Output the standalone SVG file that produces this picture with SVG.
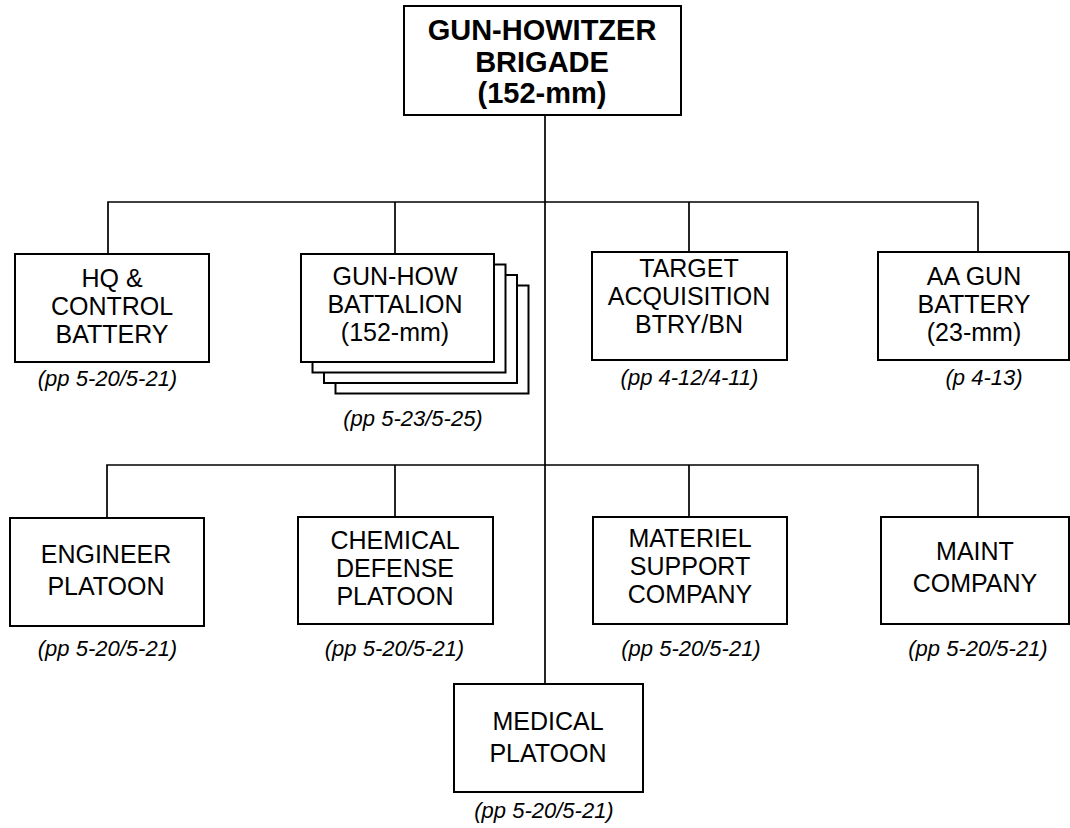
<svg xmlns="http://www.w3.org/2000/svg" width="1070" height="828" viewBox="0 0 1070 828">
<style>
.box{fill:#fff;stroke:#000;stroke-width:2}
.ln{fill:none;stroke:#000;stroke-width:1.7}
.t{font-family:"Liberation Sans",Arial,sans-serif;font-size:25px;fill:#000;text-anchor:middle}
.tb{font-family:"Liberation Sans",Arial,sans-serif;font-size:29px;font-weight:bold;fill:#000;text-anchor:middle}
.lb{font-family:"Liberation Sans",Arial,sans-serif;font-size:22px;font-style:italic;fill:#000;text-anchor:middle}
</style>
<rect width="1070" height="828" fill="#fff"/>
<g id="connectors">
<path class="ln" d="M545,115V684"/>
<path class="ln" d="M108,254V202H978V252M395,202V254M689,202V252"/>
<path class="ln" d="M107,518V465H978V517M395,465V517M689,465V517"/>
</g>
<g id="brigade">
<rect class="box" x="404" y="6" width="277" height="109"/>
<text class="tb" x="542" y="40">GUN-HOWITZER</text>
<text class="tb" x="542" y="72">BRIGADE</text>
<text class="tb" x="542" y="103">(152-mm)</text>
</g>
<g id="hq">
<rect class="box" x="15" y="254" width="194" height="108"/>
<text class="t" x="112" y="287">HQ &amp;</text>
<text class="t" x="112" y="315">CONTROL</text>
<text class="t" x="112" y="343">BATTERY</text>
<text class="lb" x="107.5" y="386">(pp 5-20/5-21)</text>
</g>
<g id="gunhow">
<rect class="box" x="335.5" y="285.5" width="193" height="108"/>
<rect class="box" x="324" y="275" width="193" height="108"/>
<rect class="box" x="312.5" y="264.5" width="193" height="108"/>
<rect class="box" x="301" y="254" width="193" height="108"/>
<text class="t" x="395" y="285">GUN-HOW</text>
<text class="t" x="395" y="313">BATTALION</text>
<text class="t" x="395" y="341">(152-mm)</text>
<text class="lb" x="413" y="426">(pp 5-23/5-25)</text>
</g>
<g id="target">
<rect class="box" x="592" y="252" width="195" height="108"/>
<text class="t" x="689" y="276.5">TARGET</text>
<text class="t" x="689" y="304.5">ACQUISITION</text>
<text class="t" x="689" y="332.5">BTRY/BN</text>
<text class="lb" x="689.5" y="385">(pp 4-12/4-11)</text>
</g>
<g id="aa">
<rect class="box" x="878" y="252" width="191" height="108"/>
<text class="t" x="974" y="285">AA GUN</text>
<text class="t" x="974" y="313">BATTERY</text>
<text class="t" x="974" y="341">(23-mm)</text>
<text class="lb" x="984" y="385">(p 4-13)</text>
</g>
<g id="engineer">
<rect class="box" x="10" y="518" width="194" height="108"/>
<text class="t" x="106" y="563">ENGINEER</text>
<text class="t" x="106" y="595">PLATOON</text>
<text class="lb" x="107.5" y="656">(pp 5-20/5-21)</text>
</g>
<g id="chemical">
<rect class="box" x="298" y="517" width="195" height="107"/>
<text class="t" x="395" y="549">CHEMICAL</text>
<text class="t" x="395" y="577">DEFENSE</text>
<text class="t" x="395" y="605">PLATOON</text>
<text class="lb" x="394.5" y="656">(pp 5-20/5-21)</text>
</g>
<g id="materiel">
<rect class="box" x="593" y="517" width="194" height="107"/>
<text class="t" x="690" y="547">MATERIEL</text>
<text class="t" x="690" y="575">SUPPORT</text>
<text class="t" x="690" y="603">COMPANY</text>
<text class="lb" x="691" y="656">(pp 5-20/5-21)</text>
</g>
<g id="maint">
<rect class="box" x="881" y="517" width="188" height="107"/>
<text class="t" x="975" y="560">MAINT</text>
<text class="t" x="975" y="592">COMPANY</text>
<text class="lb" x="978" y="656">(pp 5-20/5-21)</text>
</g>
<g id="medical">
<rect class="box" x="454" y="684" width="189" height="108"/>
<text class="t" x="548" y="730">MEDICAL</text>
<text class="t" x="548" y="762">PLATOON</text>
<text class="lb" x="544" y="818">(pp 5-20/5-21)</text>
</g>
</svg>
